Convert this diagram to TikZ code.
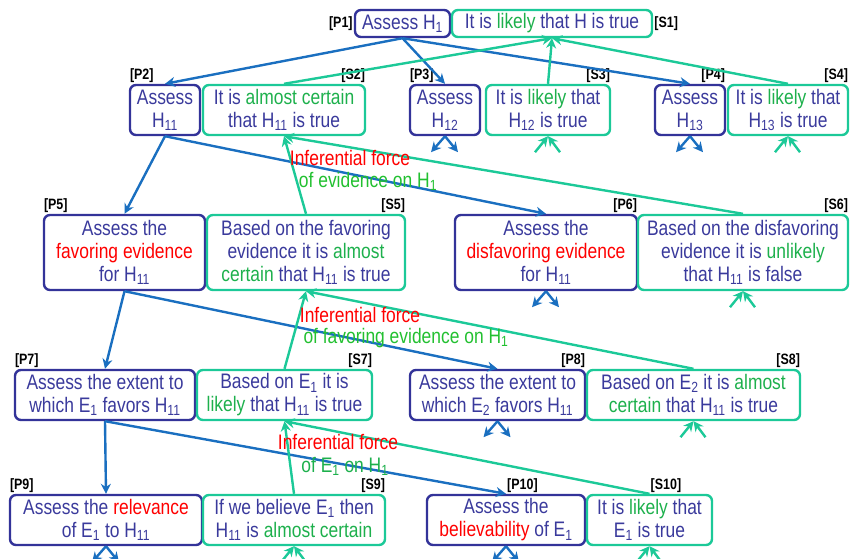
\documentclass[tikz,border=0pt]{standalone}
\usepackage{fontspec}
\setmainfont{Liberation Sans}[FakeStretch=0.83]
\usetikzlibrary{arrows.meta}
\definecolor{pcol}{HTML}{333399}
\definecolor{scol}{HTML}{1CC998}
\definecolor{tcol}{HTML}{3A3A9C}
\definecolor{gcol}{HTML}{1DB04C}
\definecolor{lgcol}{HTML}{22C030}
\definecolor{acol}{HTML}{1A6FC0}
\newcommand{\gw}[1]{\textcolor{gcol}{#1}}
\newcommand{\rw}[1]{\textcolor{red}{#1}}
\newcommand{\sbs}[1]{\textsubscript{#1}}
\tikzset{box/.style={rectangle,rounded corners=6pt,line width=2.4pt,align=center,inner sep=1pt,
  text=tcol,font=\fontsize{21}{23}\selectfont}}
\tikzset{pbox/.style={box,draw=pcol},sbox/.style={box,draw=scol}}
\tikzset{tag/.style={inner sep=1pt,font=\bfseries\fontsize{15}{16}\selectfont}}
\tikzset{lab/.style={inner sep=0pt,font=\fontsize{21}{23}\selectfont}}
\tikzset{parr/.style={draw=acol,line width=2.4pt,-{Stealth[length=10pt,width=10pt]}}}
\tikzset{sarr/.style={draw=scol,line width=2.4pt,-{Stealth[length=10pt,width=10pt]}}}
\begin{document}
\begin{tikzpicture}[x=1pt,y=-1pt]
  \useasboundingbox (0,0) rectangle (850,558);
  % first level
  \node[pbox,minimum width=95,minimum height=27] (P1) at (402.5,23.5) {Assess H\sbs{1}};
  \node[sbox,minimum width=200,minimum height=27] (S1) at (552,23.5) {It is \gw{likely} that H is true};
  % second level
  \node[pbox,minimum width=70,minimum height=50] (P2) at (165,110) {Assess\\H\sbs{11}};
  \node[sbox,minimum width=162,minimum height=50] (S2) at (284,110) {It is \gw{almost certain}\\that H\sbs{11} is true};
  \node[pbox,minimum width=70,minimum height=50] (P3) at (445,110) {Assess\\H\sbs{12}};
  \node[sbox,minimum width=124,minimum height=50] (S3) at (548,110) {It is \gw{likely} that\\H\sbs{12} is true};
  \node[pbox,minimum width=70,minimum height=50] (P4) at (690,110) {Assess\\H\sbs{13}};
  \node[sbox,minimum width=120,minimum height=50] (S4) at (788,110) {It is \gw{likely} that\\H\sbs{13} is true};
  % evidence
  \node[pbox,minimum width=161,minimum height=75] (P5) at (124.5,252.5) {Assess the\\\rw{favoring evidence}\\for H\sbs{11}};
  \node[sbox,minimum width=198,minimum height=75] (S5) at (306,252.5) {Based on the favoring\\evidence it is \gw{almost}\\\gw{certain} that H\sbs{11} is true};
  \node[pbox,minimum width=182,minimum height=75] (P6) at (546,252.5) {Assess the\\\rw{disfavoring evidence}\\for H\sbs{11}};
  \node[sbox,minimum width=210,minimum height=75] (S6) at (743,252.5) {Based on the disfavoring\\evidence it is \gw{unlikely}\\that H\sbs{11} is false};
  % items of evidence
  \node[pbox,minimum width=180,minimum height=50] (P7) at (105,395) {Assess the extent to\\which E\sbs{1} favors H\sbs{11}};
  \node[sbox,minimum width=175,minimum height=50] (S7) at (284.5,395) {Based on E\sbs{1} it is\\\gw{likely} that H\sbs{11} is true};
  \node[pbox,minimum width=175,minimum height=50] (P8) at (497.5,395) {Assess the extent to\\which E\sbs{2} favors H\sbs{11}};
  \node[sbox,minimum width=213,minimum height=50] (S8) at (693.5,395) {Based on E\sbs{2} it is \gw{almost}\\\gw{certain} that H\sbs{11} is true};
  % relevance and believability
  \node[pbox,minimum width=192,minimum height=50] (P9) at (106,520) {Assess the \rw{relevance}\\of E\sbs{1} to H\sbs{11}};
  \node[sbox,minimum width=182,minimum height=50] (S9) at (294,520) {If we believe E\sbs{1} then\\H\sbs{11} is \gw{almost certain}};
  \node[pbox,minimum width=158,minimum height=50] (P10) at (506,520) {Assess the\\\rw{believability} of E\sbs{1}};
  \node[sbox,minimum width=125,minimum height=50] (S10) at (649.5,520) {It is \gw{likely} that\\E\sbs{1} is true};
  % tags
  \node[tag,anchor=east] (tP1) at (P1.west) {[P1]};
  \node[tag,anchor=west] (tS1) at (S1.east) {[S1]};
  \foreach \n/\a/\b in {P2/south west/north west,S2/south east/north east,P3/south west/north west,
      S3/south east/north east,P4/south east/north east,S4/south east/north east,P5/south west/north west,
      S5/south east/north east,P6/south east/north east,S6/south east/north east,P7/south west/north west,
      S7/south east/north east,P8/south east/north east,S8/south east/north east,P9/south west/north west,
      S9/south east/north east,P10/south west/north,S10/south west/north}
    \node[tag,anchor=\a] (t\n) at (\n.\b) {[\n]};
  % decomposition
  \draw[parr] (P1.south) -- (P2.north);
  \draw[parr] (P1.south) -- (P3.north);
  \draw[parr] (P1.south) -- (P4.north);
  \draw[parr] (P2.south) -- (P5.north);
  \draw[parr] (P2.south) -- (P6.north);
  \draw[parr] (P5.south) -- (P7.north);
  \draw[parr] (P5.south) -- (P8.north);
  \draw[parr] (P7.south) -- (P9.north);
  \draw[parr] (P7.south) -- (P10.north);
  % synthesis
  \draw[sarr] (S2.north) -- (S1.south);
  \draw[sarr] (S3.north) -- (S1.south);
  \draw[sarr] (S4.north) -- (S1.south);
  \draw[sarr] (S5.north) -- (S2.south);
  \draw[sarr] (S6.north) -- (S2.south);
  \draw[sarr] (S7.north) -- (S5.south);
  \draw[sarr] (S8.north) -- (S5.south);
  \draw[sarr] (S9.north) -- (S7.south);
  \draw[sarr] (S10.north) -- (S7.south);
  % unexpanded
  \foreach \n in {P3,P4,P6,P8,P9,P10} {
    \draw[parr] (\n.south) -- ++(-14,16);
    \draw[parr] (\n.south) -- ++(13,16);
  }
  \foreach \n in {S3,S4,S6,S8,S9,S10} {
    \draw[sarr] (\n.south) ++(-13,16) -- (\n.south);
    \draw[sarr] (\n.south) ++(12,16) -- (\n.south);
  }
  % inferential force
  \node[lab,text=red] (f1a) at (350,158) {Inferential force};
  \node[lab,text=lgcol] (f1b) at (368,181) {of evidence on H\sbs{1}};
  \node[lab,text=red] (f2a) at (360,315) {Inferential force};
  \node[lab,text=lgcol] (f2b) at (406,338) {of favoring evidence on H\sbs{1}};
  \node[lab,text=red] (f3a) at (338,442) {Inferential force};
  \node[lab,text=gcol] (f3b) at (345,466) {of E\sbs{1} on H\sbs{1}};
\end{tikzpicture}
\end{document}
